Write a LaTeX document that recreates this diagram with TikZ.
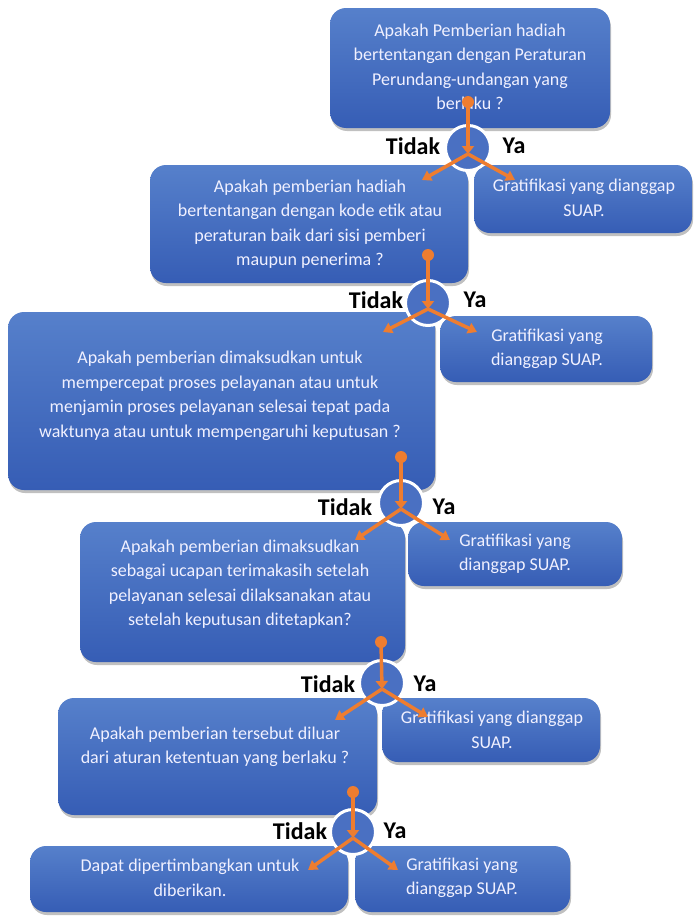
\documentclass[tikz,border=0pt]{standalone}
\usepackage{fontspec}
\setmainfont{Carlito}
\usetikzlibrary{arrows.meta,shadows}
\definecolor{boxtop}{HTML}{5680CB}
\definecolor{boxbot}{HTML}{365DB5}
\definecolor{jblue}{HTML}{4A70C2}
\definecolor{orng}{HTML}{EE7D30}
\tikzset{
  qbox/.style={rounded corners=16pt, top color=boxtop, bottom color=boxbot, draw=none,
    minimum width=#1, inner sep=0pt,
    drop shadow={shadow xshift=1pt, shadow yshift=-3pt, opacity=0.35, fill=black!70}},
  qtext/.style={text=white!94!blue, align=center, font=\fontsize{18}{24.5}\selectfont, inner sep=0pt},
  jcirc/.style={circle, fill=jblue, draw=white, line width=3pt, minimum size=45pt, inner sep=0pt},
  jdot/.style={circle, fill=orng, minimum size=12pt, inner sep=0pt},
  jlab/.style={font=\fontsize{24}{26}\selectfont\bfseries, text=black, inner sep=0pt},
  oarrow/.style={draw=orng, line width=3.5pt, -{Triangle[width=11pt,length=9pt]}},
}
\begin{document}
\begin{tikzpicture}[x=1pt,y=-1pt]
\useasboundingbox[fill=white] (0,0) rectangle (697,918);

% boxes
\node[qbox=280pt, minimum height=120pt] (b1) at (470,68) {};
\node[qbox=318pt, minimum height=118pt] (b2l) at (309,224) {};
\node[qbox=218pt, minimum height=68pt] (b2r) at (583,199) {};
\node[qbox=427pt, minimum height=178pt] (b3l) at (221.5,401) {};
\node[qbox=212pt, minimum height=66pt] (b3r) at (546,349) {};
\node[qbox=325pt, minimum height=140pt] (b4l) at (242.5,592) {};
\node[qbox=214pt, minimum height=64pt] (b4r) at (515,554) {};
\node[qbox=319pt, minimum height=117pt] (b5l) at (217.5,756.5) {};
\node[qbox=218pt, minimum height=64pt] (b5r) at (491,730) {};
\node[qbox=318pt, minimum height=66pt] (b6l) at (189,879) {};
\node[qbox=215pt, minimum height=66pt] (b6r) at (462.5,879) {};

% texts
\node[qtext] (t1) at (470,67) {Apakah Pemberian hadiah\\bertentangan dengan Peraturan\\Perundang-undangan yang\\berlaku ?};
\node[qtext] (t2l) at (310,224) {Apakah pemberian hadiah\\bertentangan dengan kode etik atau\\peraturan baik dari sisi pemberi\\maupun penerima ?};
\node[qtext] (t2r) at (584,198) {Gratifikasi yang dianggap\\SUAP.};
\node[qtext] (t3l) at (220,396) {Apakah pemberian dimaksudkan untuk\\mempercepat proses pelayanan atau untuk\\menjamin proses pelayanan selesai tepat pada\\waktunya atau untuk mempengaruhi keputusan ?};
\node[qtext] (t3r) at (547,349) {Gratifikasi yang\\dianggap SUAP.};
\node[qtext] (t4l) at (240,584) {Apakah pemberian dimaksudkan\\sebagai ucapan terimakasih setelah\\pelayanan selesai dilaksanakan atau\\setelah keputusan ditetapkan?};
\node[qtext] (t4r) at (515,554) {Gratifikasi yang\\dianggap SUAP.};
\node[qtext] (t5l) at (215,747) {Apakah pemberian tersebut diluar\\dari aturan ketentuan yang berlaku ?};
\node[qtext] (t5r) at (492,730) {Gratifikasi yang dianggap\\SUAP.};
\node[qtext] (t6l) at (190,878) {Dapat dipertimbangkan untuk\\diberikan.};
\node[qtext] (t6r) at (462,878) {Gratifikasi yang\\dianggap SUAP.};

% junctions
\foreach \n/\dx/\dy/\cx/\cy/\lx/\ly/\rx/\ry/\tx/\yx/\ty in {
  1/468/102/468/148/422/180/515/180/413/514/146,
  2/428/255/428/303/383/332/477/332/376/475/300,
  3/401/457/401/503/355/540/450/540/345/444/507,
  4/381/642/382/683/335/720/428/717/328/425/684,
  5/353/792/353/832/308/870/398/870/300/395/831}{
  \node[jcirc] (c\n) at (\cx,\cy) {};
  \node[jdot] (d\n) at (\dx,\dy) {};
  \coordinate (m\n) at (\cx,\cy+6);
  \coordinate (l\n) at (\lx,\ly);
  \coordinate (r\n) at (\rx,\ry);
  \draw[draw=orng, line width=3.5pt, -{Triangle[width=12pt,length=8pt]}] (d\n.center) -- (m\n);
  \draw[oarrow] (m\n) -- (l\n);
  \draw[oarrow] (m\n) -- (r\n);
  \node[jlab] (tk\n) at (\tx,\ty) {Tidak};
  \node[jlab] (ya\n) at (\yx,\ty) {Ya};
}
\end{tikzpicture}
\end{document}
